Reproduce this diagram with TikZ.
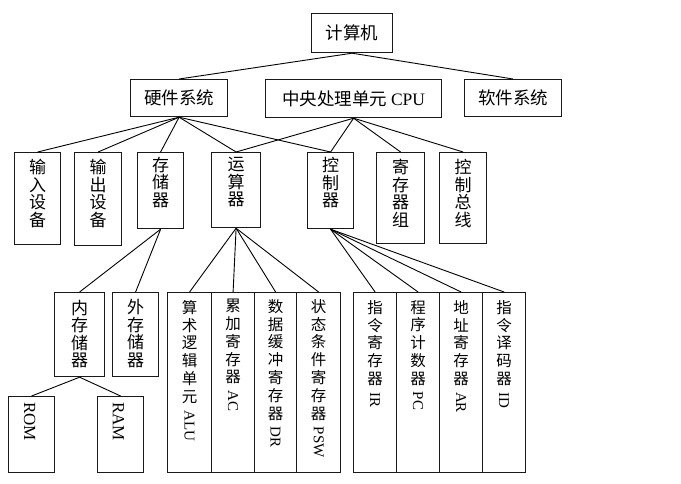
\documentclass[tikz,border=0pt]{standalone}
\usepackage{fontspec}
\setmainfont{Liberation Serif}
\newfontfamily\cjk{Noto Sans CJK SC}
\newfontfamily\latin{Liberation Serif}

\tikzset{
  x=1pt, y=-1pt,
  box/.style={draw=black!90, line width=1.2pt, inner sep=0pt, anchor=north west},
  link/.style={draw=black, line width=0.9pt},
  htext/.style={font=\cjk\fontsize{17.5}{20}\selectfont},
  vtext/.style={font=\cjk\fontsize{17}{17.5}\selectfont, align=center, inner sep=0pt, anchor=north},
  coltext/.style={vtext, font=\cjk\fontsize{15.5}{17.8}\selectfont},
  rtext/.style={font=\latin\fontsize{15}{15}\selectfont, rotate=-90, anchor=west, inner sep=0pt},
  bigrtext/.style={rtext, font=\latin\fontsize{17}{17}\selectfont},
}

\begin{document}
\begin{tikzpicture}
\useasboundingbox[fill=white] (0,0) rectangle (681,483);

% ---- top levels ----
\node[box, htext, minimum width=81pt, minimum height=39pt] (computer) at (311,13) {计算机};
\node[box, htext, minimum width=97pt, minimum height=37pt] (hw) at (130,79) {硬件系统};
\node[box, htext, minimum width=176pt, minimum height=38pt] (cpu) at (265,79) {中央处理单元 {\latin CPU}};
\node[box, htext, minimum width=97pt, minimum height=37pt] (sw) at (464,79) {软件系统};

% ---- third level (vertical labels) ----
\node[box, minimum width=46pt, minimum height=92pt] (input) at (14,152) {};
\node[box, minimum width=47pt, minimum height=93pt] (output) at (74,152) {};
\node[box, minimum width=46pt, minimum height=76pt] (memory) at (137,152) {};
\node[box, minimum width=49pt, minimum height=75pt] (arith) at (211,152) {};
\node[box, minimum width=46pt, minimum height=76pt] (control) at (307,152) {};
\node[box, minimum width=48pt, minimum height=91pt] (regs) at (376,152) {};
\node[box, minimum width=47pt, minimum height=91pt] (bus) at (439,152) {};

\node[vtext] (inputT) at ([yshift=-7pt]input.north) {输\\入\\设\\备};
\node[vtext] (outputT) at ([yshift=-7pt]output.north) {输\\出\\设\\备};
\node[vtext] (memoryT) at ([yshift=-5pt]memory.north) {存\\储\\器};
\node[vtext] (arithT) at ([yshift=-5pt]arith.north) {运\\算\\器};
\node[vtext] (controlT) at ([yshift=-5pt]control.north) {控\\制\\器};
\node[vtext] (regsT) at ([yshift=-7pt]regs.north) {寄\\存\\器\\组};
\node[vtext] (busT) at ([yshift=-7pt]bus.north) {控\\制\\总\\线};

% ---- fourth level ----
\node[box, minimum width=50pt, minimum height=84pt] (imem) at (54,292) {};
\node[box, minimum width=46pt, minimum height=84pt] (emem) at (112,292) {};
\node[vtext] (imemT) at ([yshift=-8pt]imem.north) {内\\存\\储\\器};
\node[vtext] (ememT) at ([yshift=-7pt]emem.north) {外\\存\\储\\器};

\node[box, minimum width=44pt, minimum height=180pt] (alu) at (167,292) {};
\node[box, minimum width=43pt, minimum height=180pt] (ac) at (211,292) {};
\node[box, minimum width=42pt, minimum height=180pt] (dr) at (254,292) {};
\node[box, minimum width=44pt, minimum height=180pt] (psw) at (296,292) {};
\node[box, minimum width=43pt, minimum height=180pt] (ir) at (353,292) {};
\node[box, minimum width=43pt, minimum height=180pt] (pc) at (396,292) {};
\node[box, minimum width=43pt, minimum height=180pt] (ar) at (439,292) {};
\node[box, minimum width=43pt, minimum height=180pt] (id) at (482,292) {};

\node[coltext] (aluT) at ([yshift=-8pt]alu.north) {算\\术\\逻\\辑\\单\\元};
\node[rtext] (aluL) at ([yshift=-7pt]aluT.south) {ALU};
\node[coltext] (acT) at ([yshift=-7pt]ac.north) {累\\加\\寄\\存\\器};
\node[rtext] (acL) at ([yshift=-6pt]acT.south) {AC};
\node[coltext] (drT) at ([yshift=-7pt]dr.north) {数\\据\\缓\\冲\\寄\\存\\器};
\node[rtext] (drL) at ([yshift=-6pt]drT.south) {DR};
\node[coltext] (pswT) at ([yshift=-7pt]psw.north) {状\\态\\条\\件\\寄\\存\\器};
\node[rtext] (pswL) at ([yshift=-6pt]pswT.south) {PSW};
\node[coltext] (irT) at ([yshift=-8pt]ir.north) {指\\令\\寄\\存\\器};
\node[rtext] (irL) at ([yshift=-6pt]irT.south) {IR};
\node[coltext] (pcT) at ([yshift=-8pt]pc.north) {程\\序\\计\\数\\器};
\node[rtext] (pcL) at ([yshift=-6pt]pcT.south) {PC};
\node[coltext] (arT) at ([yshift=-8pt]ar.north) {地\\址\\寄\\存\\器};
\node[rtext] (arL) at ([yshift=-6pt]arT.south) {AR};
\node[coltext] (idT) at ([yshift=-8pt]id.north) {指\\令\\译\\码\\器};
\node[rtext] (idL) at ([yshift=-6pt]idT.south) {ID};

% ---- fifth level ----
\node[box, minimum width=46pt, minimum height=76pt] (rom) at (8,396) {};
\node[box, minimum width=46pt, minimum height=76pt] (ram) at (97,396) {};
\node[bigrtext] (romL) at ([xshift=-2pt,yshift=-6pt]rom.north) {ROM};
\node[bigrtext] (ramL) at ([xshift=-2pt,yshift=-6pt]ram.north) {RAM};

% ---- connectors ----
\draw[link] (computer.south) -- (hw.north);
\draw[link] (computer.south) -- (sw.north);

\foreach \t in {input, output, memory, arith, control}
  \draw[link] (hw.south) -- (\t.north);
\foreach \t in {arith, control, regs, bus}
  \draw[link] (cpu.south) -- (\t.north);

\draw[link] (memory.south) -- (imem.north);
\draw[link] (memory.south) -- (emem.north);
\draw[link] (imem.south) -- (rom.north);
\draw[link] (imem.south) -- (ram.north);

\foreach \t in {alu, ac, dr, psw}
  \draw[link] (arith.south) -- (\t.north);
\foreach \t in {ir, pc, ar, id}
  \draw[link] (control.south) -- (\t.north);
\end{tikzpicture}
\end{document}
